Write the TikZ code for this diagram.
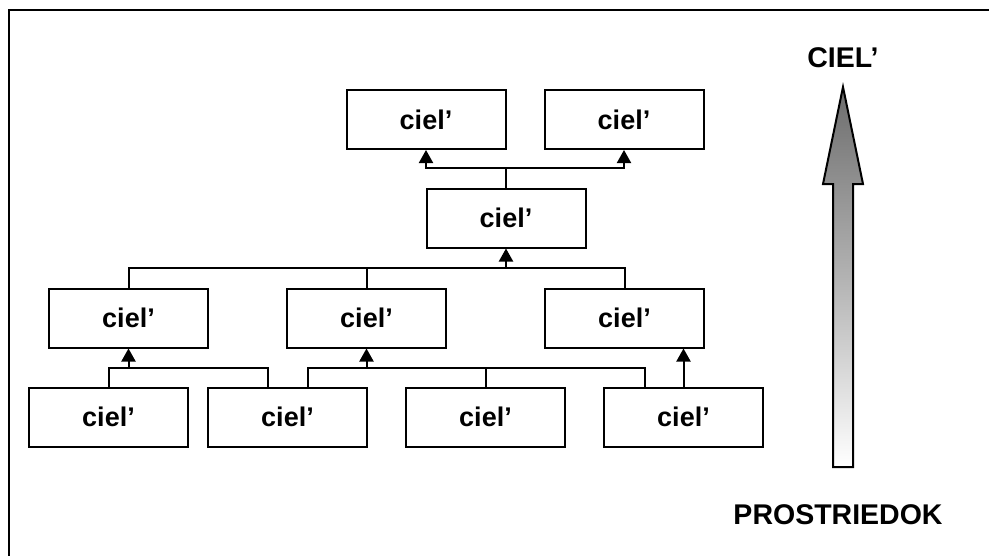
\documentclass[tikz,border=0pt]{standalone}
\usepackage{fontspec}
\setmainfont{Liberation Sans}
\usetikzlibrary{arrows.meta}
\begin{document}
\begin{tikzpicture}[x=1pt,y=-1pt,
  goal/.style={draw=black, line width=2pt, fill=white, minimum width=159pt,
    minimum height=59pt, inner sep=0pt,
    font=\fontsize{27}{30}\selectfont\bfseries},
  link/.style={draw=black, line width=2pt},
  up/.style={link, -{Triangle[width=14pt,length=13pt]}},
  caption/.style={font=\fontsize{28.5}{32}\selectfont\bfseries, inner sep=0pt}]
  \useasboundingbox (0,0) rectangle (989,555);
  % outer frame (only the top and left edges lie inside the page)
  \begin{scope}
    \clip (0,0) rectangle (989,555);
    \draw[line width=2.2pt] (9,600) -- (9,10) -- (1010,10);
  \end{scope}

  % hierarchy of goals
  \node[goal] (t1) at (426,119.5) {ciel’};
  \node[goal] (t2) at (624,119.5) {ciel’};
  \node[goal] (m)  at (506,218)   {ciel’};
  \node[goal] (r1) at (128.5,318) {ciel’};
  \node[goal] (r2) at (366.5,318) {ciel’};
  \node[goal] (r3) at (624.5,318) {ciel’};
  \node[goal] (b1) at (108.5,417) {ciel’};
  \node[goal] (b2) at (287.5,417) {ciel’};
  \node[goal] (b3) at (485.5,417) {ciel’};
  \node[goal] (b4) at (683.5,417) {ciel’};

  % middle goal feeds the two top goals
  \draw[link] (m.north) -- ++(0,-20) coordinate (jt);
  \draw[up] (jt) -| (t1.south);
  \draw[up] (jt) -| (t2.south);

  % second row feeds the middle goal
  \coordinate (jr) at (m.south |- 0,268);
  \draw[link] (r1.north) |- (jr) -| (r3.north);
  \draw[link] (r2.north) -- (r2.north |- jr);
  \draw[up] (jr) -- (m.south);

  % bottom row feeds the second row
  \coordinate (ja) at (r1.south |- 0,368);
  \draw[link] ([xshift=-20pt]b2.north) |- (b1.north |- ja) -- (b1.north);
  \draw[up] (ja) -- (r1.south);
  \coordinate (jb) at (r2.south |- 0,368);
  \draw[link] ([xshift=20pt]b2.north) |- ([xshift=-38.5pt]b4.north |- jb) -- ([xshift=-38.5pt]b4.north);
  \draw[link] (b3.north) -- (b3.north |- jb);
  \draw[up] (jb) -- (r2.south);
  \draw[up] (b4.north) -- (b4.north |- r3.south);

  % scale from means up to the goal
  \node[caption, anchor=base] (top) at (843,67) {CIEL’};
  \node[caption, anchor=base] (bottom) at (838,524) {PROSTRIEDOK};
  \shade[top color=gray!85!black, bottom color=white, middle color=gray!60, draw=black, line width=2pt, line join=miter]
    (843,87) -- (863,184) -- (853,184) -- (853,467) -- (833,467) -- (833,184) -- (823,184) -- cycle;
\end{tikzpicture}
\end{document}
